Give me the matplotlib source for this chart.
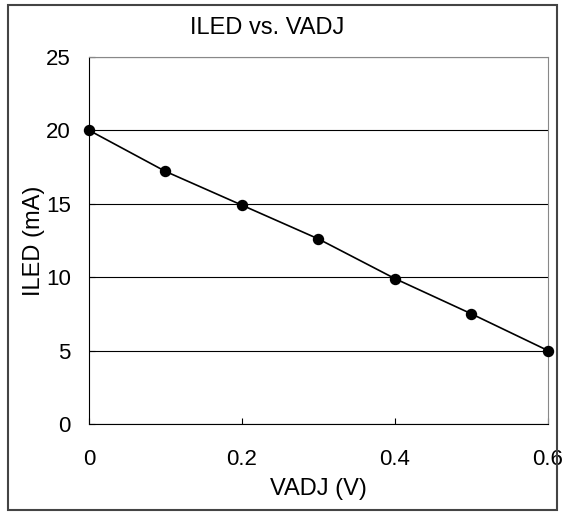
import matplotlib.pyplot as plt
from matplotlib.patches import Rectangle

plt.rcParams["font.family"] = ["Liberation Sans", "DejaVu Sans"]

vadj = [0.0, 0.1, 0.2, 0.3, 0.4, 0.5, 0.6]
iled = [20.0, 17.2, 14.9, 12.6, 9.9, 7.5, 5.0]
x_ticks = [0, 0.2, 0.4, 0.6]
x_tick_labels = ["0", "0.2", "0.4", "0.6"]
y_ticks = [0, 5, 10, 15, 20, 25]

fig = plt.figure(figsize=(5.63, 5.12), dpi=100)
ax = fig.add_axes([0.158, 0.172, 0.815, 0.717])

ax.plot(vadj, iled, color="black", linewidth=1.2, marker="o", markersize=7.2,
        clip_on=False, zorder=3)

ax.set_xlim(0, 0.6)
ax.set_ylim(0, 25)
ax.set_xticks(x_ticks)
ax.set_xticklabels(x_tick_labels)
ax.set_yticks(y_ticks)
ax.tick_params(direction="in", length=4, labelsize=16, color="black")
ax.tick_params(axis="x", pad=18)
ax.tick_params(axis="y", pad=13)
ax.yaxis.grid(True, color="black", linewidth=0.8)
ax.set_axisbelow(True)

for side in ["top", "right"]:
    ax.spines[side].set_color("#888888")
for side in ["left", "bottom"]:
    ax.spines[side].set_color("black")

ax.set_xlabel("VADJ (V)", fontsize=17, labelpad=6)
ax.set_ylabel("ILED (mA)", fontsize=17, labelpad=1)
fig.text(0.474, 0.934, "ILED vs. VADJ", fontsize=17, ha="center", va="baseline")

fig.patches.append(Rectangle((0.014, 0.004), 0.975, 0.986, transform=fig.transFigure,
                             fill=False, edgecolor="#444444", linewidth=1.5))

fig.savefig("out.png", dpi=100)
